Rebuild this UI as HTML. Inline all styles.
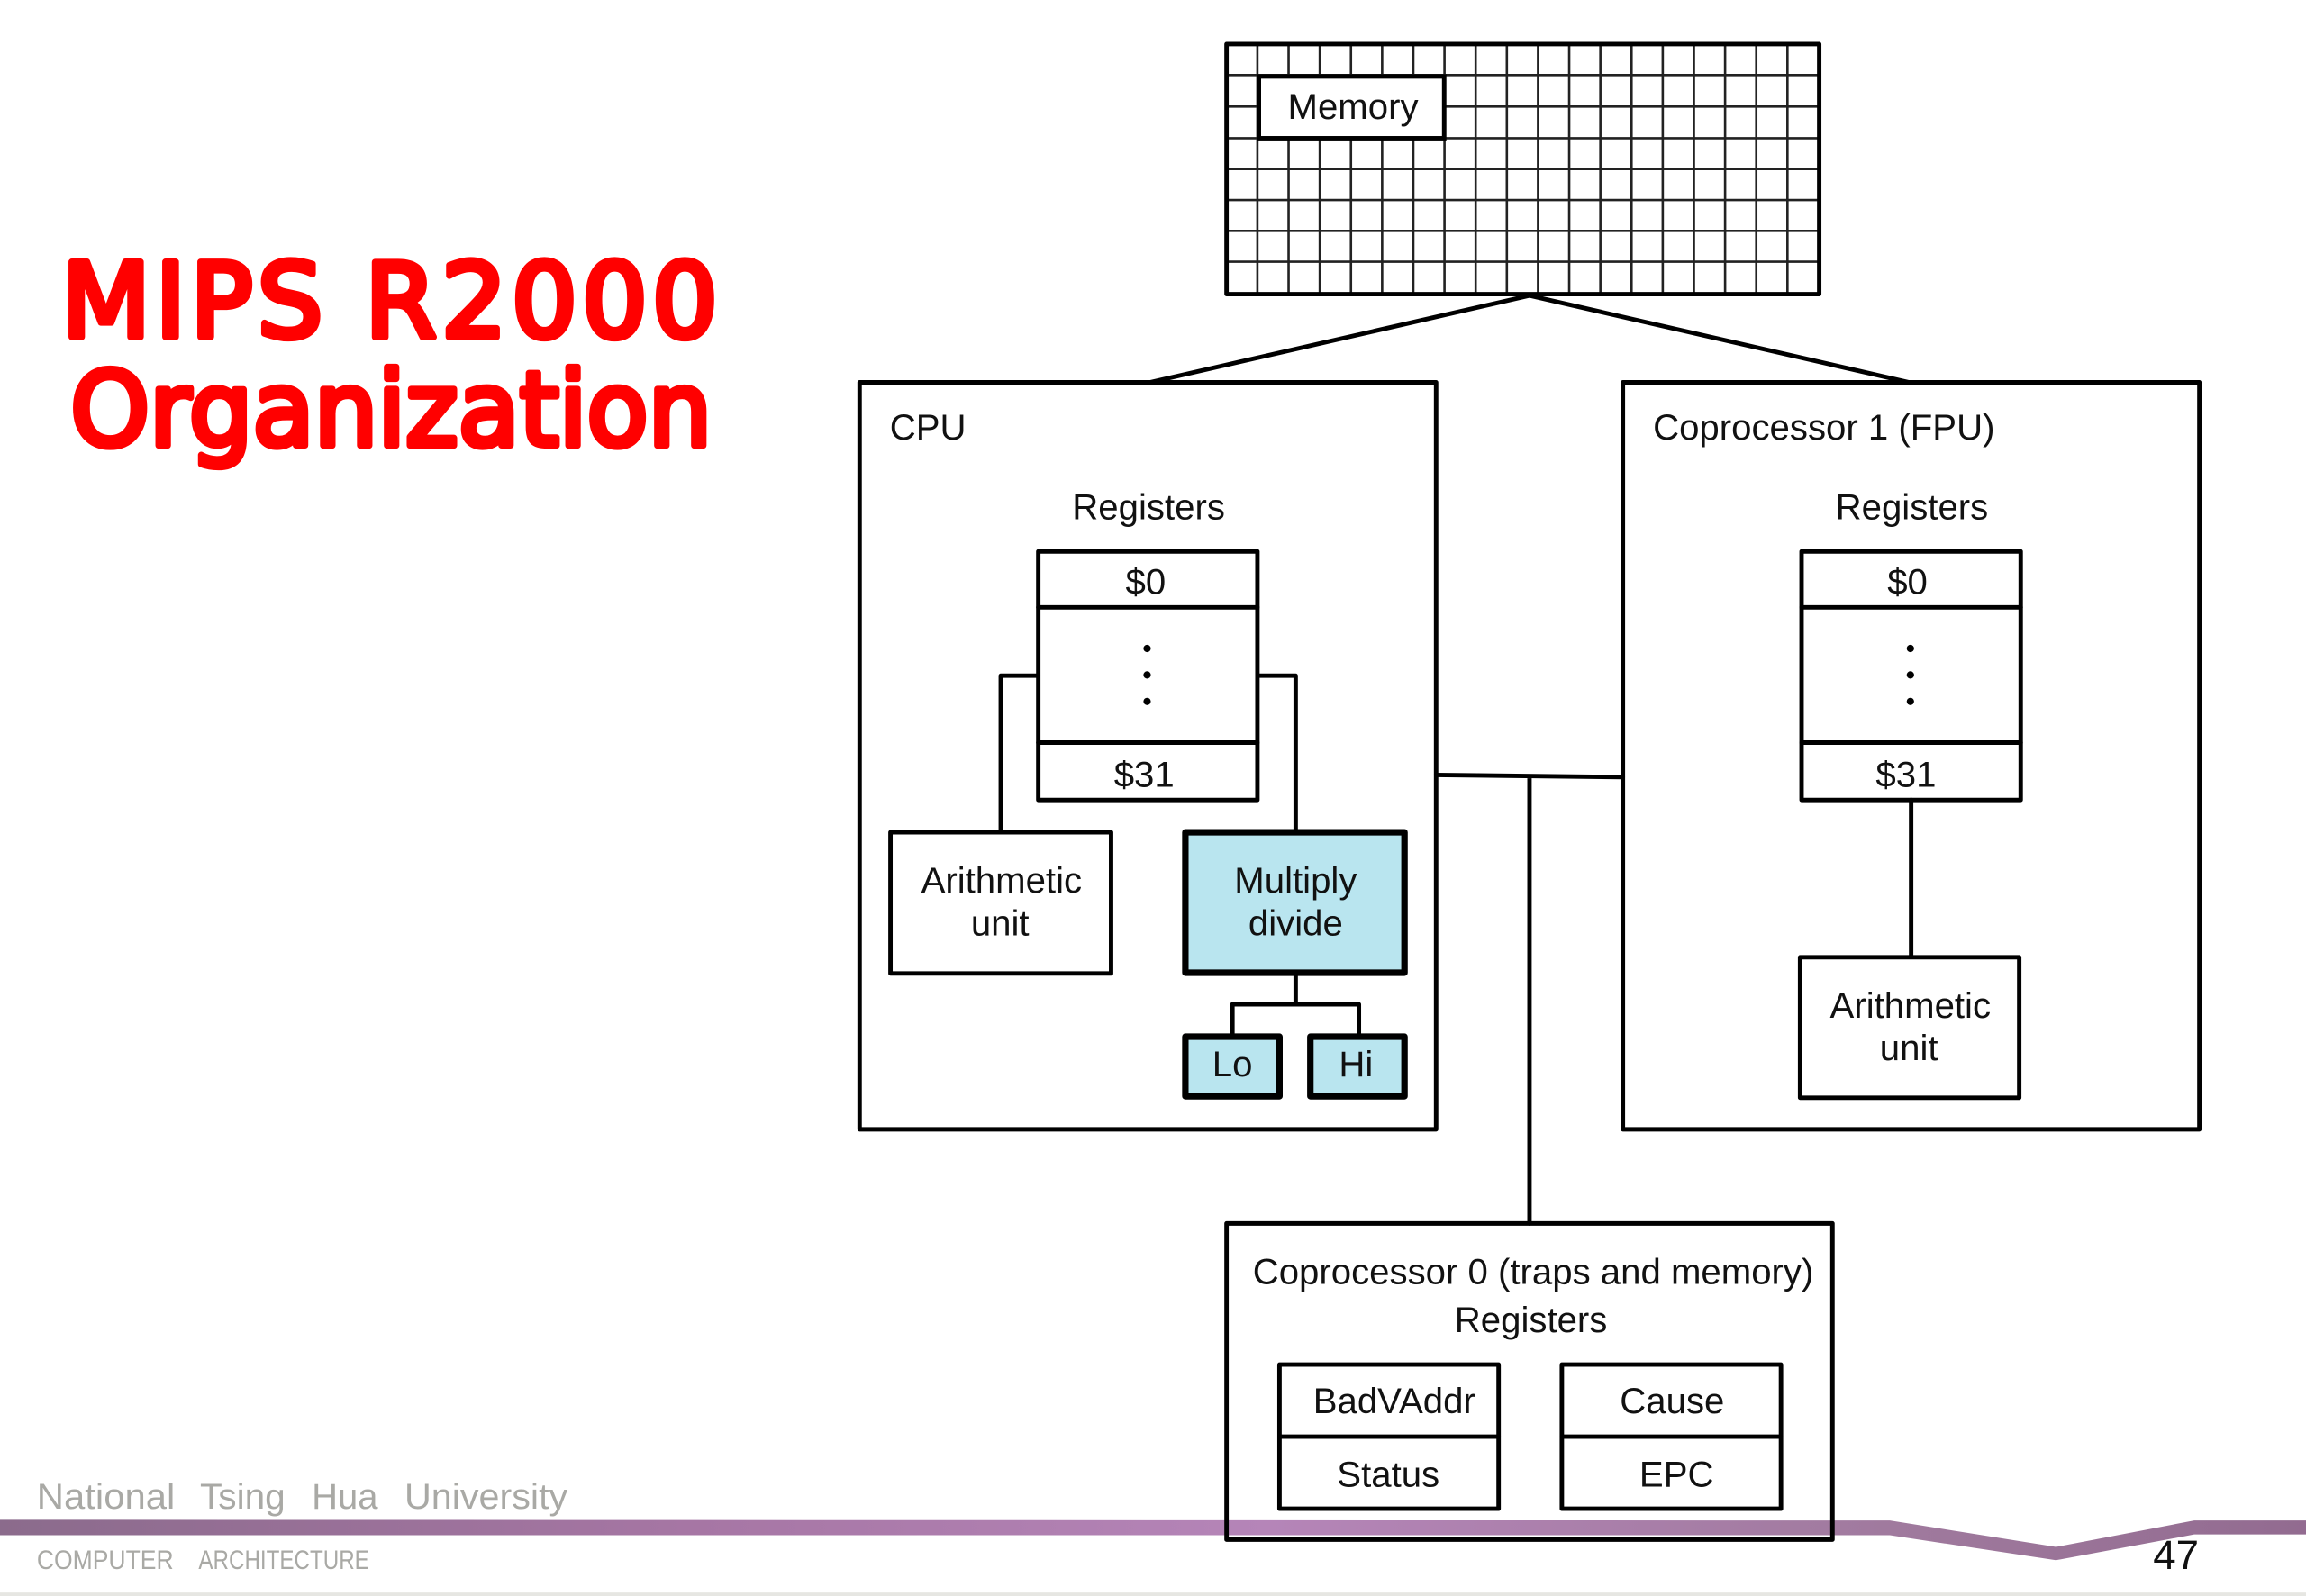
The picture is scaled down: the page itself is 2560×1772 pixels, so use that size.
<!DOCTYPE html>
<html lang="en">
<head>
<meta charset="utf-8">
<title>MIPS R2000 Organization</title>
<style>
html,body{margin:0;padding:0;background:#fff;width:2560px;height:1772px;overflow:hidden}
svg{display:block}
text{font-family:"Liberation Sans",Arial,sans-serif;fill:#111}
.c{text-anchor:middle}
.d{font-size:24.6px}
.b{fill:none;stroke:#000;stroke-width:3;stroke-linejoin:round;stroke-linecap:round}
.t{fill:none;stroke:#000;stroke-width:4.4;stroke-linejoin:round}
.g{fill:none;stroke:#222;stroke-width:1.6}
.f{fill:#a9a9a5;font-size:24.5px}
.s{fill:#a9a9a5;font-size:18px}
text.r{font-family:"DejaVu Sans","Liberation Sans",sans-serif;fill:#ff0000;stroke:#ff0000;stroke-width:4.5;stroke-linejoin:round;font-size:70px}
</style>
</head>
<body>
<svg xmlns="http://www.w3.org/2000/svg" width="2560" height="1772" viewBox="0 0 1568 1085.35">
<defs>
<linearGradient id="band" x1="0" x2="1" y1="0" y2="0">
<stop offset="0" stop-color="#8b6b8c"/>
<stop offset="0.3" stop-color="#a676a4"/>
<stop offset="0.55" stop-color="#b585b8"/>
<stop offset="0.82" stop-color="#a07a9e"/>
<stop offset="1" stop-color="#926b90"/>
</linearGradient>
</defs>
<rect width="1568" height="1085.35" fill="#fff"/>

<!-- footer -->
<polygon points="0,1033.5 1285,1034 1398,1052 1492,1034 1568,1034 1568,1043.5 1492,1043.5 1398,1061 1285,1044 0,1044" fill="url(#band)"/>
<rect x="0" y="1083" width="1568" height="3" fill="#e6e6e2"/>
<text class="f" x="25" y="1026" textLength="94" lengthAdjust="spacingAndGlyphs">National</text>
<text class="f" x="136" y="1026" textLength="58" lengthAdjust="spacingAndGlyphs">Tsing</text>
<text class="f" x="212" y="1026" textLength="45" lengthAdjust="spacingAndGlyphs">Hua</text>
<text class="f" x="275" y="1026" textLength="111" lengthAdjust="spacingAndGlyphs">University</text>
<text class="s" x="25" y="1067" textLength="93" lengthAdjust="spacingAndGlyphs">COMPUTER</text>
<text class="s" x="135" y="1067" textLength="116" lengthAdjust="spacingAndGlyphs">ARCHITECTURE</text>
<text x="1464" y="1067" font-size="28" style="fill:#111">47</text>

<!-- title -->
<text class="r" x="42" y="229" textLength="446" lengthAdjust="spacing">MIPS R2000</text>
<text class="r" x="48" y="303" textLength="436" lengthAdjust="spacingAndGlyphs">Organization</text>

<!-- memory grid -->
<path class="g" d="M855 30V200M876.2 30V200M897.4 30V200M918.6 30V200M939.8 30V200M961 30V200M982.2 30V200M1003.4 30V200M1024.6 30V200M1045.8 30V200M1067 30V200M1088.2 30V200M1109.4 30V200M1130.6 30V200M1151.8 30V200M1173 30V200M1194.2 30V200M1215.4 30V200"/>
<path class="g" d="M834 51H1237M834 72.5H1237M834 94H1237M834 115H1237M834 136H1237M834 157H1237M834 178H1237"/>
<rect class="b" x="834" y="30" width="403" height="170"/>
<rect x="856" y="52" width="126" height="42" fill="#fff" stroke="#000" stroke-width="3"/>
<text class="d c" x="920" y="81">Memory</text>

<!-- memory links -->
<path class="b" d="M782 260L1040 201L1298 260"/>

<!-- CPU -->
<rect class="b" x="584.5" y="260" width="392" height="508"/>
<text class="d" x="605" y="299">CPU</text>
<text class="d c" x="781" y="353">Registers</text>
<rect class="b" x="706" y="375" width="149" height="169"/>
<path class="b" d="M706 413H855M706 505H855"/>
<text class="d c" x="779" y="404">$0</text>
<circle cx="780" cy="441" r="2.5"/><circle cx="780" cy="459" r="2.5"/><circle cx="780" cy="477" r="2.5"/>
<text class="d c" x="778" y="535">$31</text>
<path class="b" d="M706 459.500H680.500V565M855 459.500H881V565"/>
<rect class="b" x="605.500" y="566" width="150" height="96"/>
<text class="d c" x="681" y="607">Arithmetic</text>
<text class="d c" x="680" y="636">unit</text>
<rect class="t" x="806" y="566" width="149" height="95.500" style="fill:#b9e5ef"/>
<text class="d c" x="881" y="607">Multiply</text>
<text class="d c" x="881" y="636">divide</text>
<path class="b" d="M881 662V683M838 704V683H924V704"/>
<rect class="t" x="806" y="705" width="64" height="40.500" style="fill:#b9e5ef"/>
<rect class="t" x="891" y="705" width="64" height="40.500" style="fill:#b9e5ef"/>
<text class="d c" x="838" y="732">Lo</text>
<text class="d c" x="922" y="732">Hi</text>

<!-- FPU -->
<rect class="b" x="1103.500" y="260" width="392" height="508"/>
<text class="d" x="1124" y="299">Coprocessor 1 (FPU)</text>
<text class="d c" x="1300" y="353">Registers</text>
<rect class="b" x="1225" y="375" width="149" height="169"/>
<path class="b" d="M1225 413H1374M1225 505H1374"/>
<text class="d c" x="1297" y="404">$0</text>
<circle cx="1299" cy="441" r="2.5"/><circle cx="1299" cy="459" r="2.5"/><circle cx="1299" cy="477" r="2.5"/>
<text class="d c" x="1296" y="535">$31</text>
<path class="b" d="M1299.500 544V650"/>
<rect class="b" x="1224" y="651" width="149" height="95.500"/>
<text class="d c" x="1299" y="692">Arithmetic</text>
<text class="d c" x="1298" y="721">unit</text>

<!-- bus -->
<path class="b" d="M976.500 527L1103.500 528.500M1040 528V832"/>

<!-- Coprocessor 0 -->
<rect class="b" x="834" y="832" width="412" height="215"/>
<text class="d c" x="1042.500" y="873">Coprocessor 0 (traps and memory)</text>
<text class="d c" x="1041" y="906">Registers</text>
<rect class="b" x="870" y="928" width="149" height="98"/>
<path class="b" d="M870 977H1019"/>
<text class="d c" x="948" y="961">BadVAddr</text>
<text class="d c" x="944" y="1011">Status</text>
<rect class="b" x="1062" y="928" width="149" height="98"/>
<path class="b" d="M1062 977H1211"/>
<text class="d c" x="1137" y="961">Cause</text>
<text class="d c" x="1140" y="1011">EPC</text>
</svg>
</body>
</html>
